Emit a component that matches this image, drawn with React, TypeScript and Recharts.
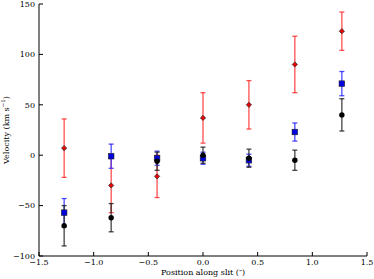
import React from 'react';
import { ScatterChart, Scatter, XAxis, YAxis, ErrorBar } from 'recharts';

const positions = [-1.27, -0.84, -0.42, 0.0, 0.42, 0.84, 1.27];
const redVel = [7, -30, -21, 37, 50, 90, 123];
const redErr = [29, 27, 21, 25, 24, 28, 19];
const blueVel = [-57, -1, -3, -3, -5, 23, 71];
const blueErr = [14, 12, 7, 6, 6, 9, 12];
const blackVel = [-70, -62, -6, 0, -3, -5, 40];
const blackErr = [20, 14, 9, 8, 9, 10, 16];

const xTicks = [-1.5, -1.0, -0.5, 0.0, 0.5, 1.0, 1.5];
const yTicks = [-100, -50, 0, 50, 100, 150];

const build = (vals: number[], errs: number[]) =>
  positions.map((p, i) => ({ x: p, y: vals[i], err: errs[i] }));

const redData = build(redVel, redErr);
const blueData = build(blueVel, blueErr);
const blackData = build(blackVel, blackErr);

const FONT = 'DejaVu Serif';
const fmtX = (v: number) => (v < 0 ? '\u2212' : '') + Math.abs(v).toFixed(1);
const fmtY = (v: number) => (v < 0 ? '\u2212' : '') + Math.abs(v).toString();

const Diamond = (props: any) => {
  const { cx, cy } = props;
  const r = 2.6;
  return (
    <polygon
      points={`${cx},${cy - r} ${cx + r},${cy} ${cx},${cy + r} ${cx - r},${cy}`}
      fill="#ee0000"
      stroke="#333"
      strokeWidth={0.8}
    />
  );
};
const Square = (props: any) => {
  const { cx, cy } = props;
  const r = 2.8;
  return <rect x={cx - r} y={cy - r} width={2 * r} height={2 * r} fill="#0000e0" stroke="#222" strokeWidth={0.6} />;
};
const Circle = (props: any) => {
  const { cx, cy } = props;
  return <circle cx={cx} cy={cy} r={2.7} fill="#000" />;
};

const EmptyTick = () => <g />;

const YLabel = (props: any) => {
  const vb = props.viewBox || { x: 0, y: 0, width: 39, height: 252 };
  const cx = 6;
  const cy = vb.y + vb.height / 2;
  return (
    <text
      x={cx}
      y={cy}
      transform={`rotate(-90 ${cx} ${cy})`}
      textAnchor="middle"
      dominantBaseline="central"
      fontFamily={FONT}
      fontSize={8}
      fill="#000"
    >
      Velocity (km s
      <tspan dy={-3} fontSize={5.5}>{'\u22121'}</tspan>
      <tspan dy={3}>)</tspan>
    </text>
  );
};

export default function App() {
  const tickStyle = { fontFamily: FONT, fontSize: 8, fill: '#000' };
  return (
    <div style={{ position: 'absolute', left: 0, top: 0, background: '#fff' }}>
      <ScatterChart width={374} height={279} margin={{ top: 4, right: 7, bottom: 0, left: 0 }}>
        <XAxis
          xAxisId="b"
          type="number"
          dataKey="x"
          domain={[-1.5, 1.5]}
          ticks={xTicks}
          tickFormatter={fmtX}
          orientation="bottom"
          height={23}
          tickSize={-4}
          tickMargin={7}
          stroke="#000"
          tick={tickStyle}
          interval={0}
          allowDataOverflow
          label={{ value: 'Position along slit (\u2033)', position: 'insideBottom', offset: 4, style: { fontFamily: FONT, fontSize: 8, fill: '#000' } }}
        />
        <XAxis
          xAxisId="t"
          type="number"
          dataKey="x"
          domain={[-1.5, 1.5]}
          ticks={xTicks}
          orientation="top"
          height={0}
          tickSize={-4}
          stroke="#000"
          tick={EmptyTick}
          interval={0}
          allowDataOverflow
        />
        <YAxis
          yAxisId="l"
          type="number"
          dataKey="y"
          domain={[-100, 150]}
          ticks={yTicks}
          tickFormatter={fmtY}
          orientation="left"
          width={39}
          tickSize={-4}
          tickMargin={8}
          stroke="#000"
          tick={tickStyle}
          interval={0}
          allowDataOverflow
          label={<YLabel />}
        />
        <YAxis
          yAxisId="r"
          type="number"
          dataKey="y"
          domain={[-100, 150]}
          ticks={yTicks}
          orientation="right"
          width={0}
          tickSize={-4}
          stroke="#000"
          tick={EmptyTick}
          interval={0}
          allowDataOverflow
        />
        <Scatter xAxisId="b" yAxisId="l" data={redData} shape={Diamond} isAnimationActive={false}>
          <ErrorBar dataKey="err" direction="y" width={2.5} stroke="#ff3030" strokeOpacity={0.85} strokeWidth={1.3} />
        </Scatter>
        <Scatter xAxisId="b" yAxisId="l" data={blueData} shape={Square} isAnimationActive={false}>
          <ErrorBar dataKey="err" direction="y" width={2.5} stroke="#2a2aff" strokeOpacity={0.85} strokeWidth={1.3} />
        </Scatter>
        <Scatter xAxisId="b" yAxisId="l" data={blackData} shape={Circle} isAnimationActive={false}>
          <ErrorBar dataKey="err" direction="y" width={2.5} stroke="#222" strokeOpacity={0.85} strokeWidth={1.3} />
        </Scatter>
      </ScatterChart>
    </div>
  );
}
